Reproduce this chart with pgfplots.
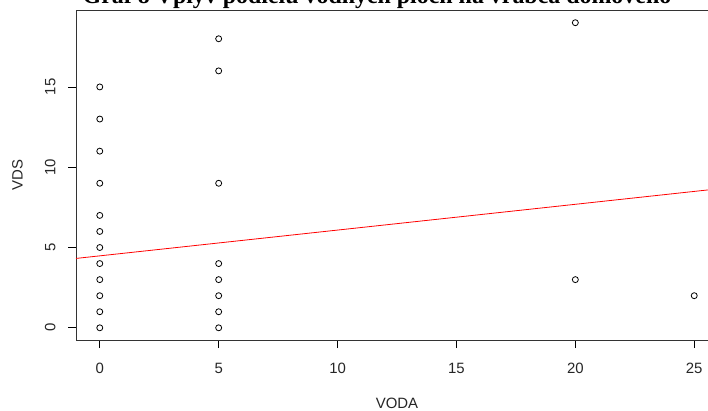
\documentclass[border=0pt]{standalone}
\usepackage{pgfplots}
\pgfplotsset{compat=1.18}
\usepackage{fontspec}
\setmainfont{Liberation Sans}
\newfontfamily\titlefont{Liberation Serif}

\pgfplotstableread{
x y
0 0
0 1
0 2
0 3
0 4
0 5
0 6
0 7
0 9
0 11
0 13
0 15
5 0
5 1
5 2
5 3
5 4
5 9
5 16
5 18
20 3
20 19
25 2
}\pts

\begin{document}
\begin{tikzpicture}[x=1bp,y=1bp]
\begin{axis}[
  at={(76bp,70bp)}, anchor=south west,
  width=642bp, height=329.5bp, scale only axis,
  xmin=-1, xmax=26, ymin=-0.76, ymax=19.76,
  xtick={0,5,10,15,20,25}, ytick={0,5,10,15},
  tick pos=left, tick align=outside, major tick length=8bp,
  tick style={black, line width=0.8bp},
  axis line style={black!80, line width=0.8bp},
  /pgf/number format/assume math mode=true,
  ticklabel style={font=\fontsize{15}{15}\selectfont, text=black!85},
  xticklabel style={yshift=-12bp},
  yticklabel style={rotate=90, anchor=south, yshift=9bp},
  clip=false,
]
\addplot[only marks, mark=o, mark size=3bp, mark options={line width=0.8bp, black}] table[x=x,y=y] {\pts};
\addplot[red, line width=0.8bp] coordinates {(-1,4.32) (25.6,8.59)};
\end{axis}
\node[font=\fontsize{15}{15}\selectfont, text=black!85] at (397,7) {VODA};
\node[font=\fontsize{15}{15}\selectfont, text=black!85, rotate=90] at (17.5,235) {VDS};
\node[font=\titlefont\bfseries\fontsize{24}{24}\selectfont, anchor=base] at (377,406) {Graf 8 Vplyv podielu vodných plôch na vrabca domového};
\pgfresetboundingbox
\path[use as bounding box] (0,0) rectangle (708,410);
\end{tikzpicture}
\end{document}
